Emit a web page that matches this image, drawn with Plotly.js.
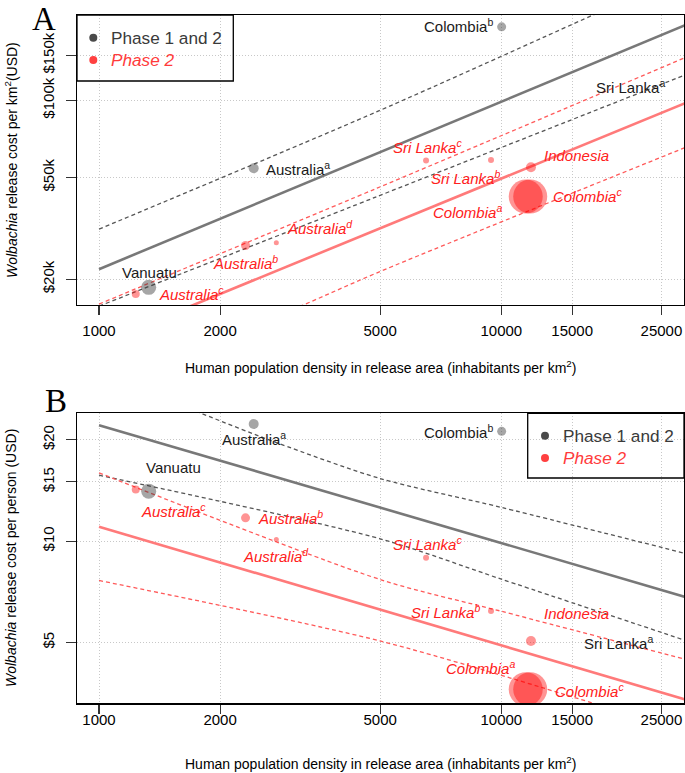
<!DOCTYPE html>
<html><head><meta charset="utf-8">
<script src="https://cdn.plot.ly/plotly-3.0.1.min.js"></script>
<style>html,body{margin:0;padding:0;background:#fff}#chart{width:685px;height:773px}</style>
</head><body><div id="chart"></div>
<script>
// ---------- data ----------
const sites = ['Australia<sup>a</sup>','Vanuatu','Colombia<sup>b</sup>','Sri Lanka<sup>a</sup>',
  'Australia<sup>c</sup>','Australia<sup>b</sup>','Australia<sup>d</sup>','Sri Lanka<sup>c</sup>',
  'Sri Lanka<sup>b</sup>','Indonesia','Colombia<sup>a</sup>','Colombia<sup>c</sup>'];
const phase = ['1and2','1and2','1and2','1and2','2','2','2','2','2','2','2','2'];
const density = [2424, 1329, 10020, 32000, 1234, 2313, 2759, 6500, 9428, 11850, 11500, 11800];
const costPerKm2 = [54300, 18600, 194000, 113000, 17500, 27100, 27800, 58200, 58500, 54800, 42100, 42100];
const costPerPerson = [22.3, 14.08, 21.2, 4.92, 14.23, 11.73, 10.11, 8.92, 6.20, 5.05, 3.63, 3.63];
const markerSize = [10, 15, 9, 8, 8, 9, 5, 6, 6, 10, 34, 34];

// regression fits and confidence bands, panel A (cost per km2)
const fitA = {
  grayFit: {x:[1000, 30000], y:[21900, 203000]},
  grayUp:  {x:[1000, 4910, 16930, 30000], y:[31400, 90400, 216000, 324000]},
  grayLo:  {x:[1000, 4910, 30000], y:[15700, 42100, 129500]},
  redFit:  {x:[1000, 30000], y:[11200, 100600]},
  redUp:   {x:[1000, 4910, 30000], y:[16000, 45400, 151700]},
  redLo:   {x:[1000, 3228, 4910, 30000], y:[7400, 15900, 21200, 67400]}
};
// panel B (cost per person)
const fitB = {
  grayFit: {x:[1000, 30000], y:[22.1, 6.72]},
  grayUp:  {x:[1000, 1785, 2770, 5000, 10000, 30000], y:[32, 24.05, 19.6, 15.35, 12.6, 9.07]},
  grayLo:  {x:[1000, 5000, 10000, 30000], y:[15.7, 10.16, 7.71, 4.98]},
  redFit:  {x:[1000, 30000], y:[11.03, 3.33]},
  redUp:   {x:[1000, 5000, 10000, 30000], y:[15.96, 7.69, 6.19, 4.39]},
  redLo:   {x:[1000, 5000, 16900, 30000], y:[7.64, 5.05, 3.30, 2.65]}
};
const xTicks = [1000, 2000, 5000, 10000, 15000, 25000];
const yTicksA = [20000, 50000, 100000, 150000];
const yTickTextA = ['$20k','$50k','$100k','$150k'];
const yTicksB = [5, 10, 15, 20];
const yTickTextB = ['$5','$10','$15','$20'];
const legendNames = ['Phase 1 and 2', 'Phase 2'];

// ---------- label placement (pixels) ----------
const labA = [
  {a:'left', dx:10, dy:0}, {a:'center', dx:1, dy:15}, {a:'right', dx:-7, dy:1}, {a:'right', dx:-17, dy:0, edge:true},
  {a:'left', dx:21, dy:1}, {a:'center', dx:0, dy:-17}, {a:'left', dx:9, dy:15}, {a:'center', dx:1, dy:14},
  {a:'right', dx:11, dy:-17}, {a:'left', dx:11, dy:12}, {a:'right', dx:-22, dy:-15}, {a:'left', dx:21, dy:1}
];
const labB = [
  {a:'center', dx:0, dy:-15}, {a:'center', dx:25, dy:24}, {a:'right', dx:-7, dy:0}, {a:'right', dx:-29, dy:2, edge:true},
  {a:'center', dx:38, dy:-21}, {a:'left', dx:10, dy:0}, {a:'center', dx:0, dy:-16}, {a:'center', dx:1, dy:14},
  {a:'right', dx:-9, dy:0}, {a:'left', dx:11, dy:27}, {a:'right', dx:-9, dy:22}, {a:'left', dx:23, dy:-1}
];

// ---------- styles ----------
const FONT = 'Liberation Sans, Arial, Helvetica, sans-serif';
const GRAY_PT = 'rgba(60,60,60,0.65)';
const RED_PT = 'rgba(255,0,0,0.6)';
const GRAY_TXT = '#1a1a1a';
const RED_TXT = '#ff2020';
const lineStyle = {
  grayFit: {color:'#787878', width:2.6, dash:'solid'},
  grayUp:  {color:'#555555', width:1.3, dash:'4px,3px', shape:'spline', smoothing:0.8},
  grayLo:  {color:'#555555', width:1.3, dash:'4px,3px', shape:'spline', smoothing:0.8},
  redFit:  {color:'#ff7a7a', width:2.6, dash:'solid'},
  redUp:   {color:'#ff5a5a', width:1.3, dash:'4px,3px', shape:'spline', smoothing:0.8},
  redLo:   {color:'#ff5a5a', width:1.3, dash:'4px,3px', shape:'spline', smoothing:0.8}
};

const traces = [];
function addLines(fit, xa, ya) {
  for (const k of ['grayUp','grayLo','redUp','redLo','grayFit','redFit']) {
    traces.push({type:'scatter', mode:'lines', x:fit[k].x, y:fit[k].y, xaxis:xa, yaxis:ya,
      line:lineStyle[k], hoverinfo:'skip', showlegend:false});
  }
}
function addPoints(vals, xa, ya) {
  for (const ph of ['1and2','2']) {
    const idx = phase.map((p,i)=>p===ph?i:-1).filter(i=>i>=0);
    traces.push({type:'scatter', mode:'markers', xaxis:xa, yaxis:ya, showlegend:false,
      x: idx.map(i=>density[i]), y: idx.map(i=>vals[i]),
      marker:{size: idx.map(i=>markerSize[i]), color: ph==='2'?RED_PT:GRAY_PT, line:{width:0}},
      cliponaxis:true, hoverinfo:'skip'});
  }
}
addLines(fitA, 'x', 'y');
addPoints(costPerKm2, 'x', 'y');
addLines(fitB, 'x2', 'y2');
addPoints(costPerPerson, 'x2', 'y2');

const annotations = [];
function addLabels(vals, lab, xr, yr) {
  sites.forEach((s,i)=>{
    const red = phase[i]==='2';
    const edge = !!lab[i].edge;  // point lies beyond the right edge: anchor label to the axis edge
    annotations.push({xref: edge ? xr+' domain' : xr, yref:yr,
      x: edge ? 1 : Math.log10(density[i]), y:Math.log10(vals[i]),
      text: red ? '<i>'+s+'</i>' : s, showarrow:false, xanchor:lab[i].a, yanchor:'middle',
      xshift:lab[i].dx, yshift:lab[i].dy, font:{family:FONT, size:15, color: red?RED_TXT:GRAY_TXT}});
  });
}
addLabels(costPerKm2, labA, 'x', 'y');
addLabels(costPerPerson, labB, 'x2', 'y2');

// paper-coordinate helpers (plot area: x 77..684, y 15..703)
const px = X => (X-77)/607;
const py = Y => (703-Y)/688;

// panel letters
annotations.push({xref:'paper', yref:'paper', x:px(44), y:py(0), text:'A', showarrow:false, borderpad:0,
  xanchor:'center', yanchor:'top', font:{family:'Liberation Serif, Times New Roman, serif', size:33, color:'#000'}});
annotations.push({xref:'paper', yref:'paper', x:px(56), y:py(382), text:'B', showarrow:false, borderpad:0,
  xanchor:'center', yanchor:'top', font:{family:'Liberation Serif, Times New Roman, serif', size:33, color:'#000'}});

// axis titles
const xTitle = 'Human population density in release area (inhabitants per km<sup>2</sup>)';
annotations.push({xref:'paper', yref:'paper', x:px(380.5), y:py(366.7), text:xTitle, showarrow:false,
  xanchor:'center', yanchor:'middle', font:{family:FONT, size:14, color:'#000'}});
annotations.push({xref:'paper', yref:'paper', x:px(380.5), y:py(763.3), text:xTitle, showarrow:false,
  xanchor:'center', yanchor:'middle', font:{family:FONT, size:14, color:'#000'}});
annotations.push({xref:'paper', yref:'paper', x:px(11), y:py(160), textangle:-90,
  text:'<i>Wolbachia</i> release cost per km<sup>2</sup>(USD)', showarrow:false,
  xanchor:'center', yanchor:'middle', font:{family:FONT, size:14, color:'#000'}});
annotations.push({xref:'paper', yref:'paper', x:px(11), y:py(558), textangle:-90,
  text:'<i>Wolbachia</i> release cost per person (USD)', showarrow:false,
  xanchor:'center', yanchor:'middle', font:{family:FONT, size:14, color:'#000'}});

// legends (manual boxes)
const shapes = [];
function addLegend(x0, x1, y0, y1, mx, my1, my2, tx) {
  shapes.push({type:'rect', xref:'paper', yref:'paper', x0:px(x0), x1:px(x1), y0:py(y1), y1:py(y0),
    line:{color:'#000', width:1.3}, fillcolor:'rgba(0,0,0,0)'});
  [[my1,'#4a4a4a'],[my2,'#ff4040']].forEach(([my,c])=>{
    shapes.push({type:'circle', xref:'paper', yref:'paper', xsizemode:'pixel', ysizemode:'pixel',
      xanchor:px(mx), yanchor:py(my), x0:-4, x1:4, y0:-4, y1:4, fillcolor:c, line:{width:0}});
  });
  annotations.push({xref:'paper', yref:'paper', x:px(tx), y:py(my1), text:legendNames[0], showarrow:false,
    xanchor:'left', yanchor:'middle', font:{family:FONT, size:17.2, color:'#3a3a3a'}});
  annotations.push({xref:'paper', yref:'paper', x:px(tx), y:py(my2), text:'<i>'+legendNames[1]+'</i>', showarrow:false,
    xanchor:'left', yanchor:'middle', font:{family:FONT, size:17.2, color:'#ff3b3b'}});
}
addLegend(77, 233.3, 15, 81, 93.3, 37.7, 60, 109);
addLegend(527.7, 684, 413.3, 478, 545, 435.7, 458, 561);

function xAxis(anchor, standoff) {
  return {type:'log', domain:[0,1], range:[2.9453, 4.4541], anchor:anchor,
    tickvals:xTicks, ticktext:xTicks.map(String), ticks:'outside', ticklen:9, tickwidth:1.2, tickcolor:'#333',
    ticklabelstandoff:standoff,
    showline:true, mirror:true, linecolor:'#000', linewidth:1.5,
    showgrid:true, gridcolor:'#c8c8c8', griddash:'1px,2px', gridwidth:1, zeroline:false,
    tickfont:{family:FONT, size:15, color:'#000'}, fixedrange:true};
}
function yAxis(anchor, dom, rng, tv, tt) {
  return {type:'log', domain:dom, range:rng, anchor:anchor,
    tickvals:tv, ticktext:tt, tickangle:-90, ticks:'outside', ticklen:10, tickwidth:1.2, tickcolor:'#333',
    ticklabelstandoff:6,
    showline:true, mirror:true, linecolor:'#000', linewidth:1.5,
    showgrid:true, gridcolor:'#c8c8c8', griddash:'1px,2px', gridwidth:1, zeroline:false,
    tickfont:{family:FONT, size:15, color:'#000'}, fixedrange:true};
}

const layout = {
  width:685, height:773, margin:{l:77, r:1, t:15, b:70, pad:0},
  paper_bgcolor:'#fff', plot_bgcolor:'#fff', showlegend:false,
  xaxis: xAxis('y', 3),
  yaxis: yAxis('x', [0.5785, 1], [4.2005, 5.334], yTicksA, yTickTextA),
  xaxis2: xAxis('y2', -7),
  yaxis2: yAxis('x2', [0, 0.4211], [0.519, 1.380], yTicksB, yTickTextB),
  annotations: annotations, shapes: shapes,
  font:{family:FONT}
};
Plotly.newPlot('chart', traces, layout, {displayModeBar:false, staticPlot:true});
</script></body></html>
